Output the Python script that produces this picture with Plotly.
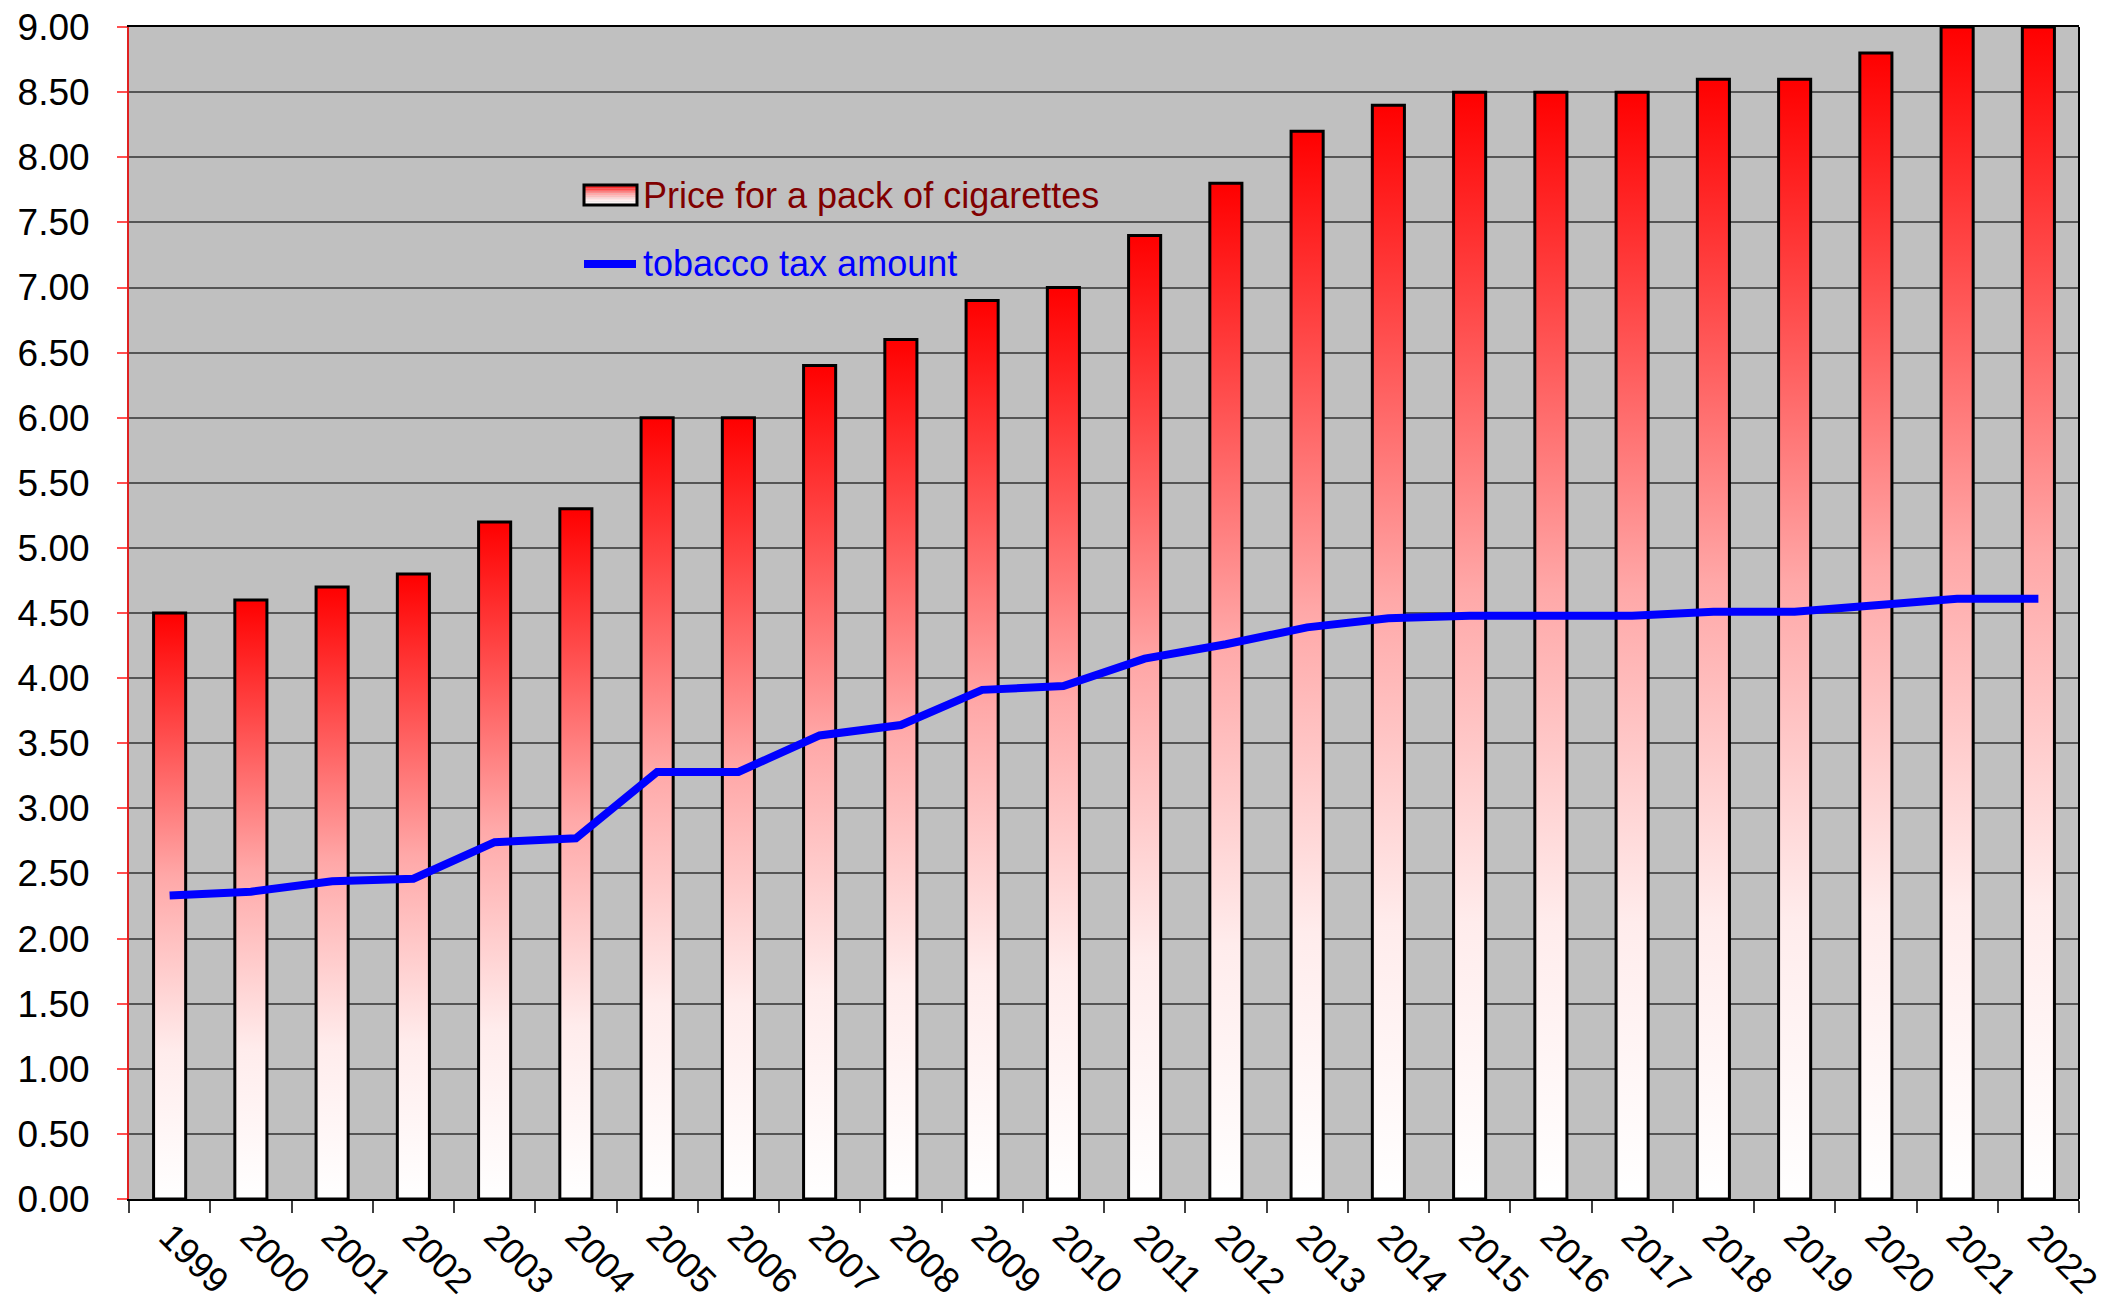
import plotly.graph_objects as go

years = [str(y) for y in range(1999, 2023)]
price = [4.5, 4.6, 4.7, 4.8, 5.2, 5.3, 6.0, 6.0, 6.4, 6.6, 6.9, 7.0, 7.4, 7.8,
         8.2, 8.4, 8.5, 8.5, 8.5, 8.6, 8.6, 8.8, 9.0, 9.0]
tax = [2.33, 2.36, 2.44, 2.46, 2.74, 2.77, 3.28, 3.28, 3.56, 3.64, 3.91, 3.94,
       4.15, 4.26, 4.39, 4.46, 4.48, 4.48, 4.48, 4.51, 4.51, 4.56, 4.61, 4.61]
y_ticks = [i * 0.5 for i in range(19)]
price_name = "Price for a pack of cigarettes"
tax_name = "tobacco tax amount"

FONT = "Liberation Sans, Arial, sans-serif"
W, H = 2119, 1297
ML, MR, MT, MB = 121, 48, 19, 106
BAR_W = 0.395
grad = [[0, "#FFFFFF"], [0.25, "#FFECEC"], [0.55, "#FFA8A8"], [0.8, "#FF4A4A"], [1, "#FF0000"]]


def interp(cs, t):
    for (a, ca), (b, cb) in zip(cs[:-1], cs[1:]):
        if a <= t <= b:
            f = (t - a) / (b - a) if b > a else 0
            c1 = [int(ca[k:k + 2], 16) for k in (1, 3, 5)]
            c2 = [int(cb[k:k + 2], 16) for k in (1, 3, 5)]
            return "rgb(%d,%d,%d)" % tuple(round(u + (v - u) * f) for u, v in zip(c1, c2))
    return cs[-1][1]


pw, ph = W - ML - MR, H - MT - MB
px = lambda x: (x - ML) / pw
py = lambda y: (H - MB - y) / ph

fig = go.Figure()
for i, (yr, v) in enumerate(zip(years, price)):
    x0, x1 = i - BAR_W / 2, i + BAR_W / 2
    fig.add_trace(go.Scatter(
        x=[x0, x1, x1, x0, x0], y=[0, 0, v, v, 0],
        mode="lines", fill="toself",
        fillgradient=dict(type="vertical", colorscale=grad, start=0, stop=v),
        line=dict(color="black", width=3),
        name=f"{price_name} {yr}", showlegend=False, hoverinfo="skip",
    ))

fig.add_trace(go.Scatter(
    x=list(range(len(years))), y=tax, mode="lines",
    line=dict(color="#0000FF", width=8), name=tax_name, showlegend=False,
))

# legend key (drawn manually: gradient box + thick line)
shapes = []
n = 12
bx0, bx1, by0, by1 = 576, 629, 177, 197
for k in range(n):
    t = 1 - (k + 0.5) / n
    shapes.append(dict(type="rect", xref="paper", yref="paper",
                       x0=px(bx0), x1=px(bx1),
                       y0=py(by0 + (by1 - by0) * k / n), y1=py(by0 + (by1 - by0) * (k + 1) / n),
                       fillcolor=interp(grad, t), line=dict(width=0)))
shapes.append(dict(type="rect", xref="paper", yref="paper", x0=px(bx0), x1=px(bx1),
                   y0=py(by0), y1=py(by1), line=dict(color="black", width=3)))
shapes.append(dict(type="line", xref="paper", yref="paper", x0=px(576), x1=px(628),
                   y0=py(256), y1=py(256), line=dict(color="#0000FF", width=8)))
shapes.append(dict(type="line", xref="paper", yref="paper", x0=1, x1=1, y0=0, y1=1,
                   line=dict(color="black", width=2)))

annotations = [
    dict(text=price_name, xref="paper", yref="paper", x=px(633), y=py(187),
         xanchor="left", yanchor="middle", showarrow=False,
         font=dict(family=FONT, size=36, color="#800000")),
    dict(text=tax_name, xref="paper", yref="paper", x=px(633), y=py(255),
         xanchor="left", yanchor="middle", showarrow=False,
         font=dict(family=FONT, size=36, color="#0000FF")),
]

fig.update_layout(
    width=W, height=H,
    template="none",
    paper_bgcolor="white", plot_bgcolor="#C0C0C0",
    margin=dict(l=ML, r=MR, t=MT, b=MB, pad=0),
    font=dict(family=FONT, size=36, color="black"),
    showlegend=False,
    shapes=shapes, annotations=annotations,
)
fig.update_xaxes(
    range=[-0.5, len(years) - 0.5], tickmode="array",
    tickvals=list(range(len(years))), ticktext=years, tickangle=45,
    ticks="", showgrid=False, zeroline=False, automargin=False,
    showline=True, linecolor="black", linewidth=2, mirror=True,
    tickfont=dict(size=36, family=FONT, color="black"), ticklabeloverflow="allow",
    minor=dict(tickmode="array", tickvals=[i - 0.5 for i in range(len(years) + 1)],
               ticks="outside", ticklen=12, tickcolor="#404040", tickwidth=2, showgrid=False),
)
fig.update_yaxes(
    range=[0, 9.0005], tickmode="array", tickvals=y_ticks,
    ticktext=[f"{v:.2f}" for v in y_ticks],
    ticks="outside", ticklen=10, tickcolor="#FF5050", tickwidth=2,
    showgrid=True, gridcolor="#555555", gridwidth=2, zeroline=False,
    showline=True, linecolor="#E02020", linewidth=2, automargin=False,
    tickfont=dict(size=37, family=FONT, color="black"), ticklabelstandoff=20,
    ticklabeloverflow="allow",
)

fig.write_html("out.html")
